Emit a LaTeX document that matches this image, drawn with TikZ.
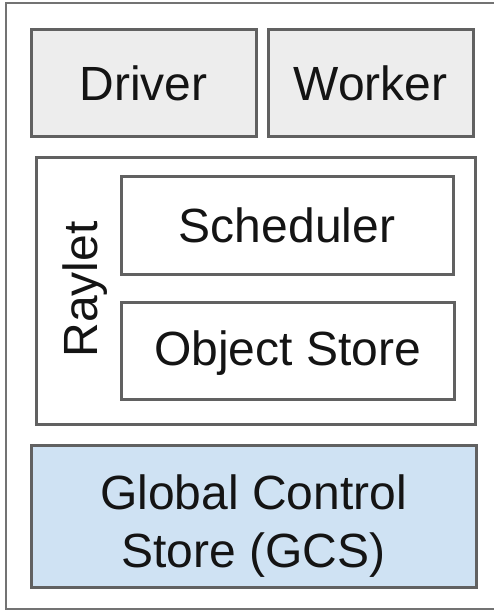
\documentclass[tikz,border=0pt]{standalone}
\usepackage{fontspec}
\setmainfont{Liberation Sans}
\begin{document}
\begin{tikzpicture}[x=1pt,y=-1pt,
  frame/.style={draw=black!55, line width=2.6pt},
  box/.style={draw=black!62, line width=3pt, rectangle, inner sep=0pt, outer sep=0pt},
  greybox/.style={box, fill=black!7},
  bluebox/.style={box, fill={rgb,255:red,207;green,226;blue,243}},
  whitebox/.style={box, fill=white},
  lbl/.style={anchor=base, inner sep=0pt, font=\fontsize{48}{58}\selectfont, text=black!92}
]
\useasboundingbox (0,0) rectangle (494,611);
\fill[white] (0,0) rectangle (494,611);

% node outline (its right side runs past the page edge)
\draw[frame] (6,3) rectangle (503,609);

% processes
\node[greybox, minimum width=225pt, minimum height=107pt] (driver) at (143.5,82.5) {};
\node[greybox, minimum width=205pt, minimum height=107pt] (worker) at (370.5,82.5) {};
\node[lbl] (drivertxt) at (143.5,100) {Driver};
\node[lbl] (workertxt) at (370.5,100) {Worker};

% raylet and its parts
\node[whitebox, minimum width=439pt, minimum height=267pt] (raylet) at (255.5,290.5) {};
\node[lbl, rotate=90] (raylettxt) at (97,289.5) {Raylet};
\node[whitebox, minimum width=332pt, minimum height=98pt] (sched) at (287,225) {};
\node[lbl] (schedtxt) at (287,242.5) {Scheduler};
\node[whitebox, minimum width=333pt, minimum height=97pt] (objstore) at (287.5,350.5) {};
\node[lbl] (objtxt) at (287.5,365.5) {Object Store};

% global control store
\node[bluebox, minimum width=445pt, minimum height=142pt] (gcs) at (253.5,516) {};
\node[lbl] (gcstxta) at (253.5,509) {Global Control};
\node[lbl] (gcstxtb) at (253.5,567) {Store (GCS)};
\end{tikzpicture}
\end{document}
